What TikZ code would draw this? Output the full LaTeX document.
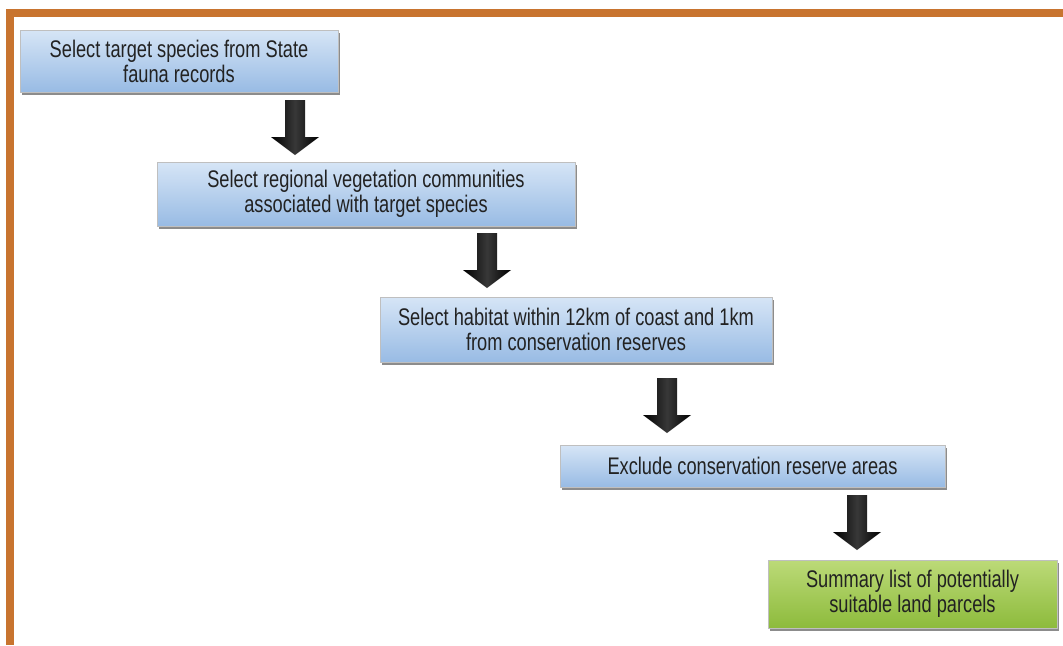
\documentclass[tikz,border=0pt]{standalone}
\usepackage{fontspec}
\setmainfont[FakeStretch=0.76]{Liberation Sans}
\usetikzlibrary{shadows}
\definecolor{frame}{HTML}{C8742F}
\definecolor{btop}{HTML}{D6E5F6}
\definecolor{bbot}{HTML}{98BBE4}
\definecolor{gtop}{HTML}{BCDA78}
\definecolor{gbot}{HTML}{8DBB3C}
\definecolor{txt}{HTML}{222222}
\tikzset{
  x=0.5pt, y=-0.5pt,
  stepbox/.style={rectangle, draw=black!25, line width=0.3pt,
    top color=btop, bottom color=bbot, text=txt, align=center,
    font=\fontsize{12}{12.5}\selectfont, inner sep=0pt,
    drop shadow={shadow xshift=0.8pt, shadow yshift=-1.6pt, fill=black!60, opacity=0.75}},
  endbox/.style={stepbox, top color=gtop, bottom color=gbot},
  bigarrow/.pic={
    \shade[left color=black, right color=black, middle color=black!78]
      (-10,0) -- (10,0) -- (10,37) -- (24,37) -- (0,55) -- (-24,37) -- (-10,37) -- cycle;}
}
\begin{document}
\begin{tikzpicture}
\useasboundingbox (0,0) rectangle (1063,645);
\fill[white] (0,0) rectangle (1063,645);
\fill[frame] (6,9) rectangle (1063,17);
\fill[frame] (6,9) rectangle (14,645);

\node[stepbox, minimum width=159pt, minimum height=31pt] (b1) at (179,61)
  {Select target species from State\\fauna records};
\node[stepbox, minimum width=209pt, minimum height=32pt] (b2) at (366,194)
  {Select regional vegetation communities\\associated with target species};
\node[stepbox, minimum width=196pt, minimum height=32.5pt] (b3) at (576,329.5)
  {Select habitat within 12km of coast and 1km\\from conservation reserves};
\node[stepbox, minimum width=192.5pt, minimum height=21pt] (b4) at (752.5,466)
  {Exclude conservation reserve areas};
\node[endbox, minimum width=144.5pt, minimum height=34pt] (b5) at (912.5,594)
  {Summary list of potentially\\suitable land parcels};

\coordinate (a1) at (295,100);
\coordinate (a2) at (487,233);
\coordinate (a3) at (667,378);
\coordinate (a4) at (857,495);
\pic at (a1) {bigarrow};
\pic at (a2) {bigarrow};
\pic at (a3) {bigarrow};
\pic at (a4) {bigarrow};
\end{tikzpicture}
\end{document}
